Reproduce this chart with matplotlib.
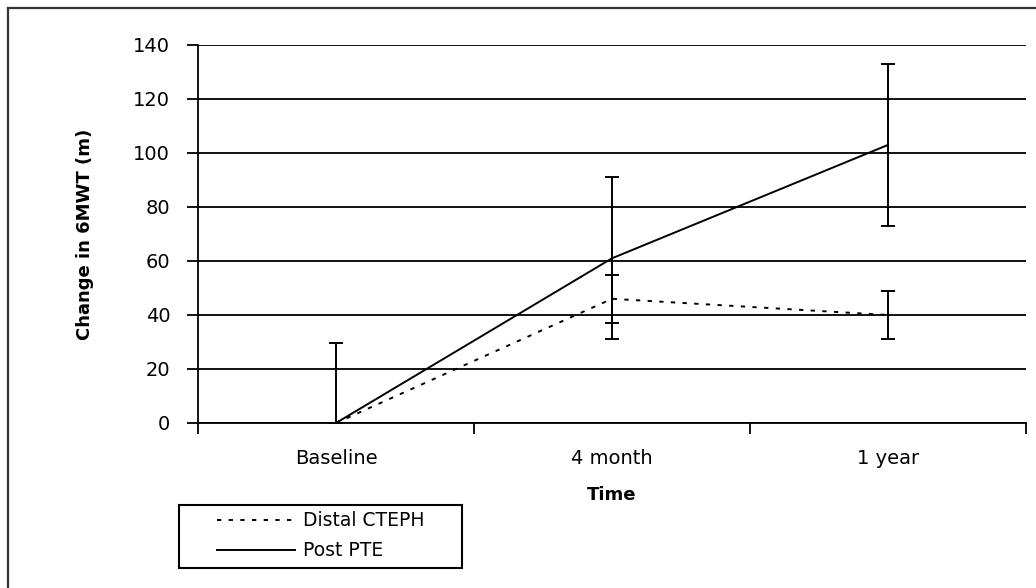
import matplotlib
matplotlib.use("Agg")
import matplotlib.pyplot as plt
from matplotlib.lines import Line2D
from matplotlib.patches import Rectangle
import numpy as np

categories = ["Baseline", "4 month", "1 year"]
distal_values = [0, 46, 40]
distal_err = [0, 9, 9]
post_values = [0, 61, 103]
post_err = [29.5, 30, 30]
y_ticks = [0, 20, 40, 60, 80, 100, 120, 140]
series_names = ["Distal CTEPH", "Post PTE"]

plt.rcParams['font.family'] = ['DejaVu Sans']

W, H = 1036, 588
fig = plt.figure(figsize=(W / 100, H / 100), dpi=100)
ax = fig.add_axes([198/W, 1 - 423/H, (1026 - 198)/W, (423 - 45)/H])

x = np.arange(len(categories))
dotted = (0, (2.2, 3.8))

ax.errorbar(x, post_values, yerr=post_err, color='black', lw=1.4,
            ecolor='black', elinewidth=1.4, capsize=5, capthick=1.4,
            zorder=4)
ax.errorbar(x, distal_values, yerr=distal_err, color='black', lw=1.4,
            ecolor='black', elinewidth=1.4, capsize=5, capthick=1.4,
            linestyle=dotted, zorder=4)

ax.set_xlim(-0.5, len(categories) - 0.5)
ax.set_ylim(0, 140)
ax.set_yticks(y_ticks)
ax.set_yticklabels([str(v) for v in y_ticks], fontsize=14)
ax.yaxis.grid(True, color='black', lw=1.3)
ax.set_axisbelow(True)

ax.set_xticks(x)
ax.set_xticklabels(categories, fontsize=14)
ax.tick_params(axis='x', which='major', length=0, pad=19)
ax.set_xticks(np.arange(-0.5, len(categories)), minor=True)
ax.tick_params(axis='x', which='minor', length=8, width=1.3, direction='out')
ax.tick_params(axis='y', length=8, width=1.3, direction='out', pad=12)

for s in ['top', 'right']:
    ax.spines[s].set_visible(False)
for s in ['left', 'bottom']:
    ax.spines[s].set_linewidth(1.3)
    ax.spines[s].set_color('black')

ax.set_ylabel("Change in 6MWT (m)", fontsize=13, fontweight='bold')
ax.yaxis.set_label_coords((94 - 198) / 828, 0.5)
ax.set_xlabel("Time", fontsize=13, fontweight='bold')
ax.xaxis.set_label_coords(0.5, (423 - 486) / 378)

# legend box (Excel style)
fig.add_artist(Rectangle((179/W, 1 - 568/H), (462 - 179)/W, (568 - 505)/H,
                         transform=fig.transFigure, fill=False,
                         edgecolor='black', lw=1.5))
leg_styles = [dotted, '-']
leg_y = [520, 550]
for name, ls, yy in zip(series_names, leg_styles, leg_y):
    fig.add_artist(Line2D([217/W, 295/W], [1 - yy/H, 1 - yy/H],
                          transform=fig.transFigure, color='black', lw=1.4,
                          linestyle=ls))
    fig.text(303/W, 1 - yy/H, name, fontsize=13.5, va='center', ha='left')

# outer chart border (top and left visible)
fig.add_artist(Line2D([7.5/W, 1], [1 - 7.5/H, 1 - 7.5/H],
                      transform=fig.transFigure, color='#333333', lw=1.6))
fig.add_artist(Line2D([7.5/W, 7.5/W], [0, 1 - 7.5/H],
                      transform=fig.transFigure, color='#333333', lw=1.6))

fig.savefig("out.png", dpi=100)
